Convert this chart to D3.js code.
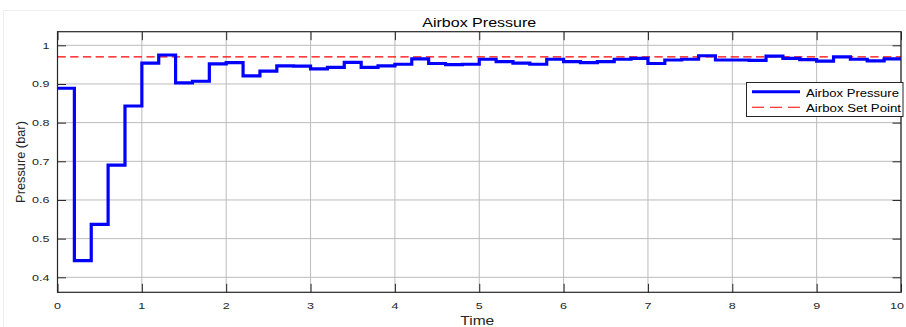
<!DOCTYPE html>
<html>
<head>
<meta charset="utf-8">
<script src="https://cdn.jsdelivr.net/npm/d3@7"></script>
<style>
  html, body { margin: 0; padding: 0; background: #ffffff; }
  svg { display: block; }
  text { font-family: "Liberation Sans", Arial, Helvetica, sans-serif; }
</style>
</head>
<body>
<svg id="chart" width="906" height="327"></svg>
<script>
// ---- data ----
const stepTimes = [0, 0.2, 0.4, 0.6, 0.8, 1.0, 1.2, 1.4, 1.6, 1.8,
                   2.0, 2.2, 2.4, 2.6, 2.8, 3.0, 3.2, 3.4, 3.6, 3.8,
                   4.0, 4.2, 4.4, 4.6, 4.8, 5.0, 5.2, 5.4, 5.6, 5.8,
                   6.0, 6.2, 6.4, 6.6, 6.8, 7.0, 7.2, 7.4, 7.6, 7.8,
                   8.0, 8.2, 8.4, 8.6, 8.8, 9.0, 9.2, 9.4, 9.6, 9.8];
const airboxPressure = [0.889, 0.443, 0.537, 0.690, 0.843, 0.954, 0.975, 0.903, 0.907, 0.952,
                        0.955, 0.921, 0.933, 0.947, 0.946, 0.939, 0.943, 0.956, 0.943, 0.947,
                        0.951, 0.965, 0.953, 0.950, 0.951, 0.964, 0.958, 0.954, 0.951, 0.964,
                        0.958, 0.955, 0.958, 0.964, 0.966, 0.953, 0.962, 0.964, 0.973, 0.962,
                        0.962, 0.961, 0.972, 0.966, 0.963, 0.959, 0.970, 0.964, 0.960, 0.965];
const endTime = 10;
const setPoint = 0.97;
const xTicks = [0, 1, 2, 3, 4, 5, 6, 7, 8, 9, 10];
const yTicks = [0.4, 0.5, 0.6, 0.7, 0.8, 0.9, 1];
const xDomain = [0, 10];
const yDomain = [0.3612, 1.0352];
const titleText = "Airbox Pressure";
const xLabelText = "Time";
const yLabelText = "Pressure (bar)";
const legendLabels = ["Airbox Pressure", "Airbox Set Point"];

// ---- layout ----
const L = 57.5, R = 901, T = 31.7, B = 292.3;
const W = 906;
const tickLen = 8.5;
const sx = 1.28; // horizontal text stretch seen in the reference

const svg = d3.select("#chart");
const x = d3.scaleLinear().domain(xDomain).range([L, R]);
const y = d3.scaleLinear().domain(yDomain).range([B, T]);

// faint outer frame
svg.append("rect").attr("x", 3.5).attr("y", 10.5).attr("width", 903).attr("height", 317)
  .attr("fill", "#ffffff").attr("stroke", "#eeeeee").attr("stroke-width", 1);

// plot background
svg.append("rect").attr("x", L).attr("y", T).attr("width", R - L).attr("height", B - T)
  .attr("fill", "#ffffff");

// grid
const grid = svg.append("g").attr("stroke", "#bcbcbc").attr("stroke-width", 1);
grid.selectAll("line.xg").data(xTicks).join("line")
  .attr("x1", d => x(d)).attr("x2", d => x(d)).attr("y1", T).attr("y2", B);
grid.selectAll("line.yg").data(yTicks).join("line")
  .attr("x1", L).attr("x2", R).attr("y1", d => y(d)).attr("y2", d => y(d));

// axes with inward ticks (all four sides)
const tickFmt = d => d3.format("~g")(d);
function styleAxis(g) {
  g.select(".domain").remove();
  g.selectAll(".tick line").attr("stroke", "#262626").attr("stroke-width", 1);
  g.selectAll(".tick text").remove();
}
svg.append("g").attr("transform", `translate(0,${B})`)
  .call(d3.axisBottom(x).tickValues(xTicks).tickSize(-tickLen)).call(styleAxis);
svg.append("g").attr("transform", `translate(0,${T})`)
  .call(d3.axisTop(x).tickValues(xTicks).tickSize(-tickLen)).call(styleAxis);
svg.append("g").attr("transform", `translate(${L},0)`)
  .call(d3.axisLeft(y).tickValues(yTicks).tickSize(-tickLen)).call(styleAxis);
svg.append("g").attr("transform", `translate(${R},0)`)
  .call(d3.axisRight(y).tickValues(yTicks).tickSize(-tickLen)).call(styleAxis);

// tick labels (last x label kept inside the page edge)
svg.append("g").selectAll("text").data(xTicks).join("text")
  .attr("transform", d => `translate(${Math.min(x(d), W - 9)},${308.5}) scale(${sx},1)`)
  .attr("text-anchor", "middle").attr("font-size", 9.8).attr("fill", "#262626")
  .text(tickFmt);
svg.append("g").selectAll("text").data(yTicks).join("text")
  .attr("transform", d => `translate(${49.5},${y(d) + 3.5}) scale(${sx},1)`)
  .attr("text-anchor", "end").attr("font-size", 9.8).attr("fill", "#262626")
  .text(tickFmt);

// set point (dashed)
svg.append("line")
  .attr("x1", x(xDomain[0])).attr("x2", x(xDomain[1]))
  .attr("y1", y(setPoint)).attr("y2", y(setPoint))
  .attr("stroke", "#ff0000").attr("stroke-width", 1.1).attr("stroke-dasharray", "8.3,4.4");

// pressure step line
const pts = stepTimes.map((t, i) => [t, airboxPressure[i]]);
pts.push([endTime, airboxPressure[airboxPressure.length - 1]]);
const line = d3.line().x(d => x(d[0])).y(d => y(d[1])).curve(d3.curveStepAfter);
svg.append("path").datum(pts).attr("d", line)
  .attr("fill", "none").attr("stroke", "#0000ff").attr("stroke-width", 3.2)
  .attr("stroke-linejoin", "miter");

// box
svg.append("rect").attr("x", L).attr("y", T).attr("width", R - L).attr("height", B - T)
  .attr("fill", "none").attr("stroke", "#262626").attr("stroke-width", 1.2);

// title and labels
svg.append("text").attr("x", (L + R) / 2).attr("y", 27)
  .attr("text-anchor", "middle").attr("font-size", 12.8).attr("fill", "#000")
  .attr("textLength", 114).attr("lengthAdjust", "spacingAndGlyphs")
  .text(titleText);
svg.append("text").attr("x", (L + R) / 2 - 2).attr("y", 325)
  .attr("text-anchor", "middle").attr("font-size", 12.8).attr("fill", "#262626")
  .attr("textLength", 34).attr("lengthAdjust", "spacingAndGlyphs")
  .text(xLabelText);
svg.append("text").attr("transform", `translate(24.5,162) rotate(-90)`)
  .attr("text-anchor", "middle").attr("font-size", 12.8).attr("fill", "#262626")
  .text(yLabelText);

// legend
const lg = svg.append("g");
lg.append("rect").attr("x", 746.5).attr("y", 82.5).attr("width", 156.5).attr("height", 34)
  .attr("fill", "#ffffff").attr("stroke", "#262626").attr("stroke-width", 1);
lg.append("line").attr("x1", 752).attr("x2", 800).attr("y1", 91.7).attr("y2", 91.7)
  .attr("stroke", "#0000ff").attr("stroke-width", 3);
lg.append("line").attr("x1", 752).attr("x2", 800).attr("y1", 107.3).attr("y2", 107.3)
  .attr("stroke", "#ff0000").attr("stroke-width", 1.1).attr("stroke-dasharray", "12,6");
lg.append("text").attr("x", 806).attr("y", 96.5).attr("font-size", 11.3).attr("fill", "#000")
  .attr("textLength", 93).attr("lengthAdjust", "spacingAndGlyphs").text(legendLabels[0]);
lg.append("text").attr("x", 806).attr("y", 111.7).attr("font-size", 11.3).attr("fill", "#000")
  .attr("textLength", 95).attr("lengthAdjust", "spacingAndGlyphs").text(legendLabels[1]);
</script>
</body>
</html>
